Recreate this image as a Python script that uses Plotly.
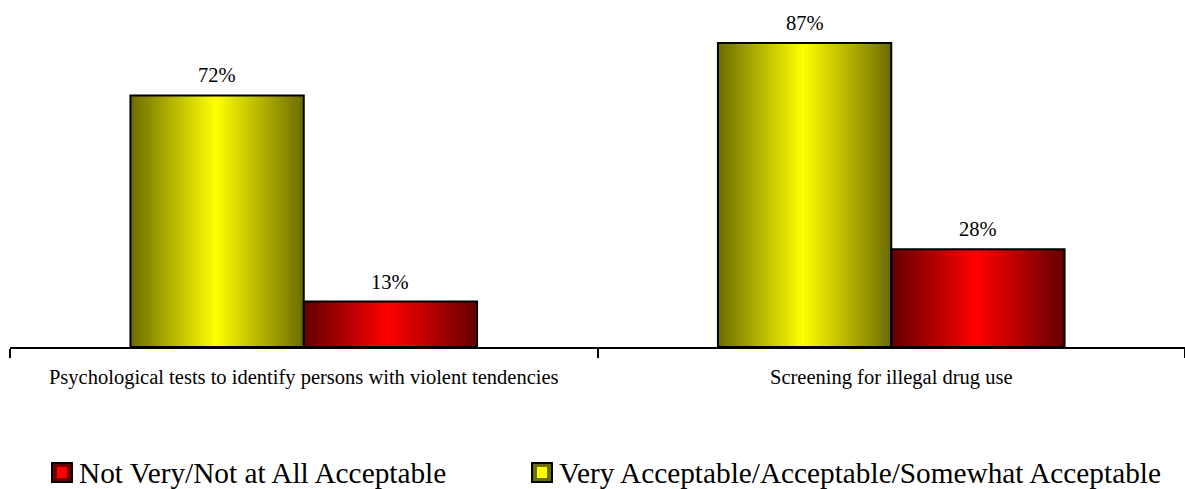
import plotly.graph_objects as go

# ---- data ----
categories = ["Psychological tests to identify persons with violent tendencies",
              "Screening for illegal drug use"]
acceptable = [72, 87]          # Very Acceptable/Acceptable/Somewhat Acceptable
not_acceptable = [13, 28]      # Not Very/Not at All Acceptable
series_names = ["Very Acceptable/Acceptable/Somewhat Acceptable",
                "Not Very/Not at All Acceptable"]
legend_order = ["Not Very/Not at All Acceptable",
                "Very Acceptable/Acceptable/Somewhat Acceptable"]

# ---- style ----
FONT = "Liberation Serif"
W, H = 1185, 489
ML, MR, MT, MB = 10, 0, 0, 142
PW, PH = W - ML - MR, H - MT - MB
BW = 0.295          # bar width in category units
N = 48              # gradient stripes per bar
PEAK = 0.49

def grad(t, dark, bright):
    f = t / PEAK if t < PEAK else (1 - t) / (1 - PEAK)
    f = max(0.0, min(1.0, f))
    c = [round(d + (b - d) * f) for d, b in zip(dark, bright)]
    return "rgb(%d,%d,%d)" % tuple(c)

styles = {
    series_names[0]: dict(values=acceptable, offset=-BW,
                          dark=(108, 108, 0), bright=(255, 255, 0)),
    series_names[1]: dict(values=not_acceptable, offset=0.0,
                          dark=(100, 0, 0), bright=(255, 0, 0)),
}

fig = go.Figure()
sw = BW / N
for name in series_names:
    s = styles[name]
    for i in range(N):
        t = (i + 0.5) / N
        w = min(sw * 1.6, BW - i * sw)
        fig.add_trace(go.Bar(
            x=categories, y=s["values"], width=w, offset=s["offset"] + i * sw,
            marker=dict(color=grad(t, s["dark"], s["bright"]), line=dict(width=0)),
            showlegend=False, hoverinfo="skip"))
for name in series_names:
    s = styles[name]
    fig.add_trace(go.Bar(
        x=categories, y=s["values"], width=BW, offset=s["offset"], name=name,
        marker=dict(color="rgba(0,0,0,0)", line=dict(color="black", width=2)),
        showlegend=False))

annotations = []
for name in series_names:
    s = styles[name]
    for idx, v in enumerate(s["values"]):
        annotations.append(dict(
            x=idx + s["offset"] + BW / 2, y=v, xref="x", yref="y",
            text=f"{v}%", showarrow=False, yanchor="bottom", yshift=7,
            font=dict(family=FONT, size=20.5, color="black")))

def px_x(px):
    return (px - ML) / PW

def px_y(py):
    return (MT + PH - py) / PH

shapes = []
leg_colors = {
    "Not Very/Not at All Acceptable": ((110, 0, 0), (255, 0, 0)),
    "Very Acceptable/Acceptable/Somewhat Acceptable": ((110, 110, 0), (255, 255, 0)),
}
leg_x = [52, 532]
for name, lx in zip(legend_order, leg_x):
    dark, bright = leg_colors[name]
    shapes.append(dict(type="rect", xref="paper", yref="paper",
                       x0=px_x(lx), x1=px_x(lx + 20), y0=px_y(482), y1=px_y(463),
                       fillcolor="rgb(%d,%d,%d)" % dark,
                       line=dict(color="black", width=2)))
    shapes.append(dict(type="rect", xref="paper", yref="paper",
                       x0=px_x(lx + 5), x1=px_x(lx + 15), y0=px_y(478), y1=px_y(467),
                       fillcolor="rgb(%d,%d,%d)" % bright, line=dict(width=0)))
    annotations.append(dict(
        x=px_x(lx + 26), y=px_y(472.5), xref="paper", yref="paper",
        text=name, showarrow=False, xanchor="left", yanchor="middle", borderpad=0,
        font=dict(family=FONT, size=29.3, color="black")))

fig.update_layout(
    width=W, height=H, barmode="overlay",
    margin=dict(l=ML, r=MR, t=MT, b=MB),
    paper_bgcolor="white", plot_bgcolor="white",
    showlegend=False,
    annotations=annotations, shapes=shapes,
    xaxis=dict(type="category", categoryorder="array", categoryarray=categories,
               range=[-0.5, 1.5], showline=True, linecolor="black", linewidth=2,
               ticks="outside", tickson="boundaries", ticklen=9, tickwidth=2,
               tickcolor="black", showgrid=False, zeroline=False,
               ticklabelstandoff=10,
               tickfont=dict(family=FONT, size=20.5, color="black")),
    yaxis=dict(visible=False, range=[0, 99.3], showgrid=False, zeroline=False),
)

fig.write_html("out.html")
